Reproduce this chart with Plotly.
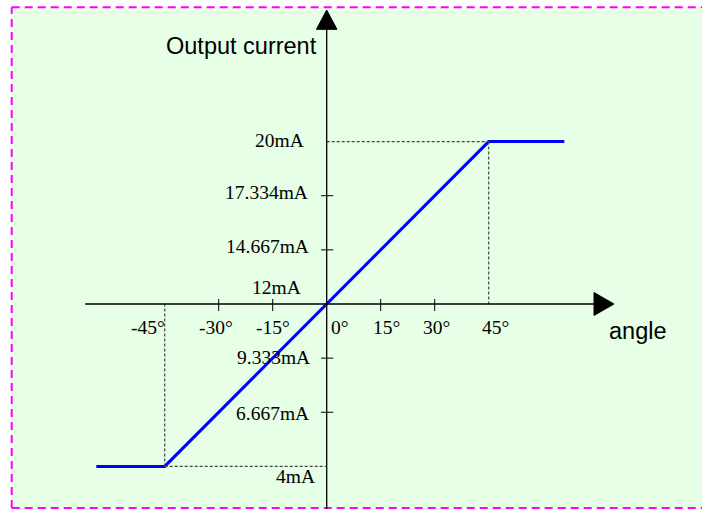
import plotly.graph_objects as go

# ---- data ----
angles = [-64, -45, 45, 66]            # degrees
current = [4, 4, 20, 20]               # mA
x_tick_vals = [-30, -15, 15, 30]
x_label_vals = [-45, -30, -15, 0, 15, 30, 45]
x_label_text = ["-45°", "-30°", "-15°", "0°", "15°", "30°", "45°"]
y_tick_vals = [17.334, 14.667, 9.333, 6.667]
y_label_vals = [20, 17.334, 14.667, 12, 9.333, 6.667, 4]
y_label_text = ["20mA", "17.334mA", "14.667mA", "12mA", "9.333mA", "6.667mA", "4mA"]
x_title = "angle"
y_title = "Output current"

# ---- style / layout constants ----
W, H = 702, 509
X_RANGE = [-90.75, 104.25]
Y_RANGE = [1.901, 26.975]
Y0 = 12  # where x axis crosses
x_label_dx = [-17, -3, 0, 13, 6, 2, 7]
y_label_dx = [-21, -17, -16, -24, -15, -16, -10]
y_label_dy = [1, 3, 3, 16, 1, -1, -10]
serif = "Liberation Serif"
sans = "Liberation Sans"
guide = dict(color="#444444", width=1.2, dash="3px,2px")
axis_line = dict(color="black", width=1.3)
border = dict(color="#FF00FF", width=2, dash="8px,5px")

fig = go.Figure()
fig.add_trace(go.Scatter(x=angles, y=current, mode="lines",
                         line=dict(color="#0000FF", width=3),
                         hoverinfo="skip", showlegend=False))

shapes = []
# background panel with dashed magenta border (right edge lies outside the picture)
bx0, by0, by1 = 11.7 / W, 1 - 508 / H, 1 - 7.3 / H
shapes.append(dict(type="rect", xref="paper", yref="paper",
                   x0=bx0, x1=1.0, y0=by0, y1=by1,
                   fillcolor="#E6FFE6", line=dict(width=0), layer="below"))
shapes += [
    dict(type="line", xref="paper", yref="paper", x0=bx0, x1=1.0, y0=by1, y1=by1, line=border),
    dict(type="line", xref="paper", yref="paper", x0=bx0, x1=1.0, y0=by0, y1=by0, line=border),
    dict(type="line", xref="paper", yref="paper", x0=bx0, x1=bx0, y0=by0, y1=by1, line=border),
]

# guide lines to the saturation corners
lo_a, hi_a = angles[1], angles[2]
lo_c, hi_c = current[1], current[2]
shapes += [
    dict(type="line", x0=0, x1=hi_a, y0=hi_c, y1=hi_c, line=guide),
    dict(type="line", x0=hi_a, x1=hi_a, y0=hi_c, y1=Y0, line=guide),
    dict(type="line", x0=lo_a, x1=0, y0=lo_c, y1=lo_c, line=guide),
    dict(type="line", x0=lo_a, x1=lo_a, y0=lo_c, y1=Y0, line=guide),
]

# axes
x_start, x_end, x_tip = -67.1, 74.25, 79.8
y_end, y_tip = 25.53, 26.48
shapes.append(dict(type="line", x0=x_start, x1=x_end, y0=Y0, y1=Y0, line=axis_line))
shapes.append(dict(type="line", x0=0, x1=0, y0=Y_RANGE[0] - 1, y1=y_end, line=axis_line))
# arrow heads
ah = 0.5665
shapes.append(dict(type="path",
                   path=f"M {x_end},{Y0 - ah} L {x_tip},{Y0} L {x_end},{Y0 + ah} Z",
                   fillcolor="black", line=dict(color="black", width=1)))
aw = 2.86
shapes.append(dict(type="path",
                   path=f"M {-aw},{y_end} L 0,{y_tip} L {aw},{y_end} Z",
                   fillcolor="black", line=dict(color="black", width=1)))
# tick marks
for v in x_tick_vals:
    shapes.append(dict(type="line", x0=v, x1=v, y0=Y0 + 0.246, y1=Y0 - 0.345,
                       line=dict(color="black", width=1)))
for v in y_tick_vals:
    shapes.append(dict(type="line", x0=-1.58, x1=1.83, y0=v, y1=v,
                       line=dict(color="black", width=1)))

annotations = []
for v, t, dx in zip(x_label_vals, x_label_text, x_label_dx):
    annotations.append(dict(x=v, y=Y0, text=t, showarrow=False, xanchor="center",
                            yanchor="middle", xshift=dx, yshift=-24,
                            font=dict(family=serif, size=19.5, color="black")))
for v, t, dx, dy in zip(y_label_vals, y_label_text, y_label_dx, y_label_dy):
    annotations.append(dict(x=0, y=v, text=t, showarrow=False, xanchor="right",
                            yanchor="middle", xshift=dx, yshift=dy,
                            font=dict(family=serif, size=19.5, color="black")))
annotations.append(dict(xref="paper", yref="paper", x=241 / W, y=1 - 45.8 / H,
                        text=y_title, showarrow=False, xanchor="center", yanchor="middle",
                        font=dict(family=sans, size=23.5, color="black")))
annotations.append(dict(xref="paper", yref="paper", x=638 / W, y=1 - 331 / H,
                        text=x_title, showarrow=False, xanchor="center", yanchor="middle",
                        font=dict(family=sans, size=23.5, color="black")))

fig.update_layout(
    width=W, height=H, margin=dict(l=0, r=0, t=0, b=0),
    paper_bgcolor="white", plot_bgcolor="rgba(0,0,0,0)",
    xaxis=dict(range=X_RANGE, visible=False, fixedrange=True),
    yaxis=dict(range=Y_RANGE, visible=False, fixedrange=True),
    shapes=shapes, annotations=annotations, showlegend=False,
)
fig.write_html("out.html", config={"displayModeBar": False},
               post_script="document.body.style.margin='0';document.body.style.overflow='hidden';")
